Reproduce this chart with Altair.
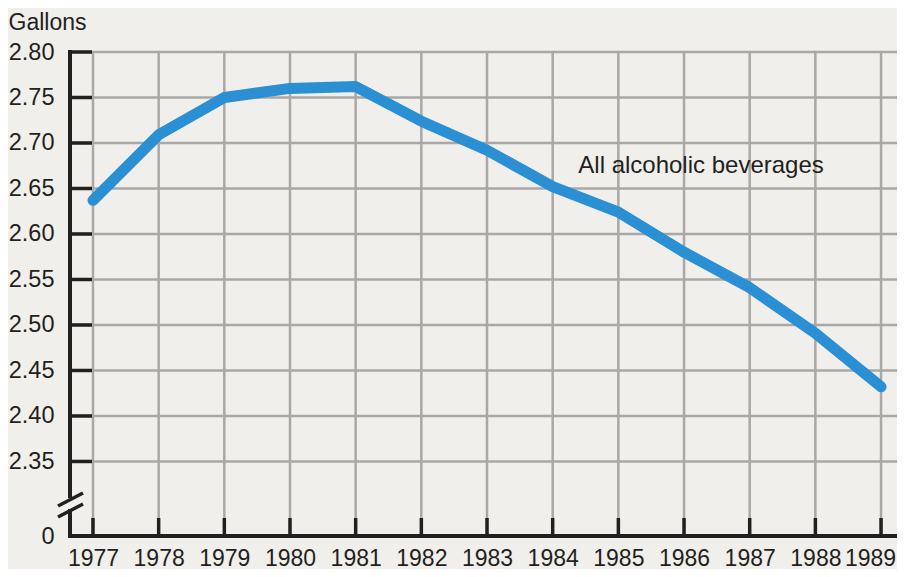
import altair as alt
import pandas as pd

# ---- data ----
years = [1977, 1978, 1979, 1980, 1981, 1982, 1983, 1984, 1985, 1986, 1987, 1988, 1989]
gallons = [2.637, 2.709, 2.750, 2.760, 2.762, 2.724, 2.692, 2.652, 2.624, 2.580, 2.541, 2.491, 2.432]
grid_values = [2.35, 2.40, 2.45, 2.50, 2.55, 2.60, 2.65, 2.70, 2.75, 2.80]
zero_position = 2.2681  # where the broken axis shows "0"
annotation_text = ["All alcoholic beverages"]
annotation_year = [1984.39]
annotation_value = [2.667]

W, H = 827, 484
FONT = "Liberation Sans"
DARK = "#231f20"
GRID = "#a9a8a6"
BLUE = "#2b8fd3"
BG = "#f1efeb"

xscale = alt.Scale(domain=[1976.65, 1989.243], nice=False, zero=False)
yscale = alt.Scale(domain=[zero_position, 2.80], nice=False, zero=False)

series = pd.DataFrame({"year": years, "gallons": gallons})
grid_df = pd.DataFrame({"v": grid_values})
year_df = pd.DataFrame({"year": years})
anno_df = pd.DataFrame({"year": annotation_year, "v": annotation_value, "t": annotation_text})
one = pd.DataFrame({"k": [0]})

hgrid = alt.Chart(grid_df).mark_rule(color=GRID, strokeWidth=2.5).encode(
    y=alt.Y("v:Q", scale=yscale, axis=alt.Axis(
        values=[zero_position] + grid_values,
        labelExpr="datum.value < 2.3 ? '0' : format(datum.value, '.2f')",
        ticks=False, tickSize=0, domain=False, grid=False,
        labelPadding=16, labelFontSize=23.5, labelFont=FONT, labelColor=DARK,
        title="Gallons", titleAngle=0, titleAlign="left", titleBaseline="alphabetic",
        titleX=-62, titleY=-23, titleFont=FONT, titleFontSize=23,
        titleFontWeight="normal", titleColor=DARK)),
    x=alt.value(0), x2=alt.value(W),
)

vgrid = alt.Chart(year_df).mark_rule(color=GRID, strokeWidth=2.5).encode(
    x=alt.X("year:Q", scale=xscale, axis=alt.Axis(
        values=years, format="d", ticks=False, tickSize=0, domain=False, grid=False,
        labelPadding=29, labelBaseline="alphabetic", labelFontSize=23,
        labelFont=FONT, labelColor=DARK, labelOverlap=False, labelBound=False,
        labelFlush=False,
        labelOffset={"condition": {"test": "datum.value === 1989", "value": -11}, "value": 0},
        title=None)),
    y=alt.value(0), y2=alt.value(H),
)

yticks = alt.Chart(grid_df).mark_rule(color=DARK, strokeWidth=3.5).encode(
    y=alt.Y("v:Q", scale=yscale), x=alt.value(0), x2=alt.value(22),
)

xticks = alt.Chart(year_df).mark_rule(color=DARK, strokeWidth=3.5).encode(
    x=alt.X("year:Q", scale=xscale), y=alt.value(H - 18), y2=alt.value(H),
)

xaxis_line = alt.Chart(one).mark_rule(color=DARK, strokeWidth=4).encode(
    x=alt.value(-2), x2=alt.value(W), y=alt.value(H), y2=alt.value(H),
)
yaxis_top = alt.Chart(one).mark_rule(color=DARK, strokeWidth=4).encode(
    x=alt.value(0), x2=alt.value(0), y=alt.value(-2), y2=alt.value(446),
)
yaxis_bottom = alt.Chart(one).mark_rule(color=DARK, strokeWidth=4).encode(
    x=alt.value(0), x2=alt.value(0), y=alt.value(457), y2=alt.value(H + 2),
)
slash1 = alt.Chart(one).mark_rule(color=DARK, strokeWidth=3.5).encode(
    x=alt.value(-12), x2=alt.value(13), y=alt.value(454), y2=alt.value(441),
)
slash2 = alt.Chart(one).mark_rule(color=DARK, strokeWidth=3.5).encode(
    x=alt.value(-12), x2=alt.value(13), y=alt.value(465), y2=alt.value(452),
)

line = alt.Chart(series).mark_line(
    color=BLUE, strokeWidth=11, strokeCap="round", strokeJoin="round"
).encode(
    x=alt.X("year:Q", scale=xscale),
    y=alt.Y("gallons:Q", scale=yscale),
)

anno = alt.Chart(anno_df).mark_text(
    align="left", baseline="alphabetic", fontSize=24, font=FONT, color=DARK
).encode(
    x=alt.X("year:Q", scale=xscale),
    y=alt.Y("v:Q", scale=yscale),
    text="t:N",
)

chart = alt.layer(
    hgrid, vgrid, yticks, xticks, line, anno,
    xaxis_line, yaxis_top, yaxis_bottom, slash1, slash2,
).properties(
    width=W, height=H,
    autosize=alt.AutoSizeParams(type="none"),
    padding={"left": 62, "top": 44, "right": 0, "bottom": 33},
    background=BG,
).configure_view(stroke=None)

chart.save("out.html", embed_options={"renderer": "svg", "actions": False})
